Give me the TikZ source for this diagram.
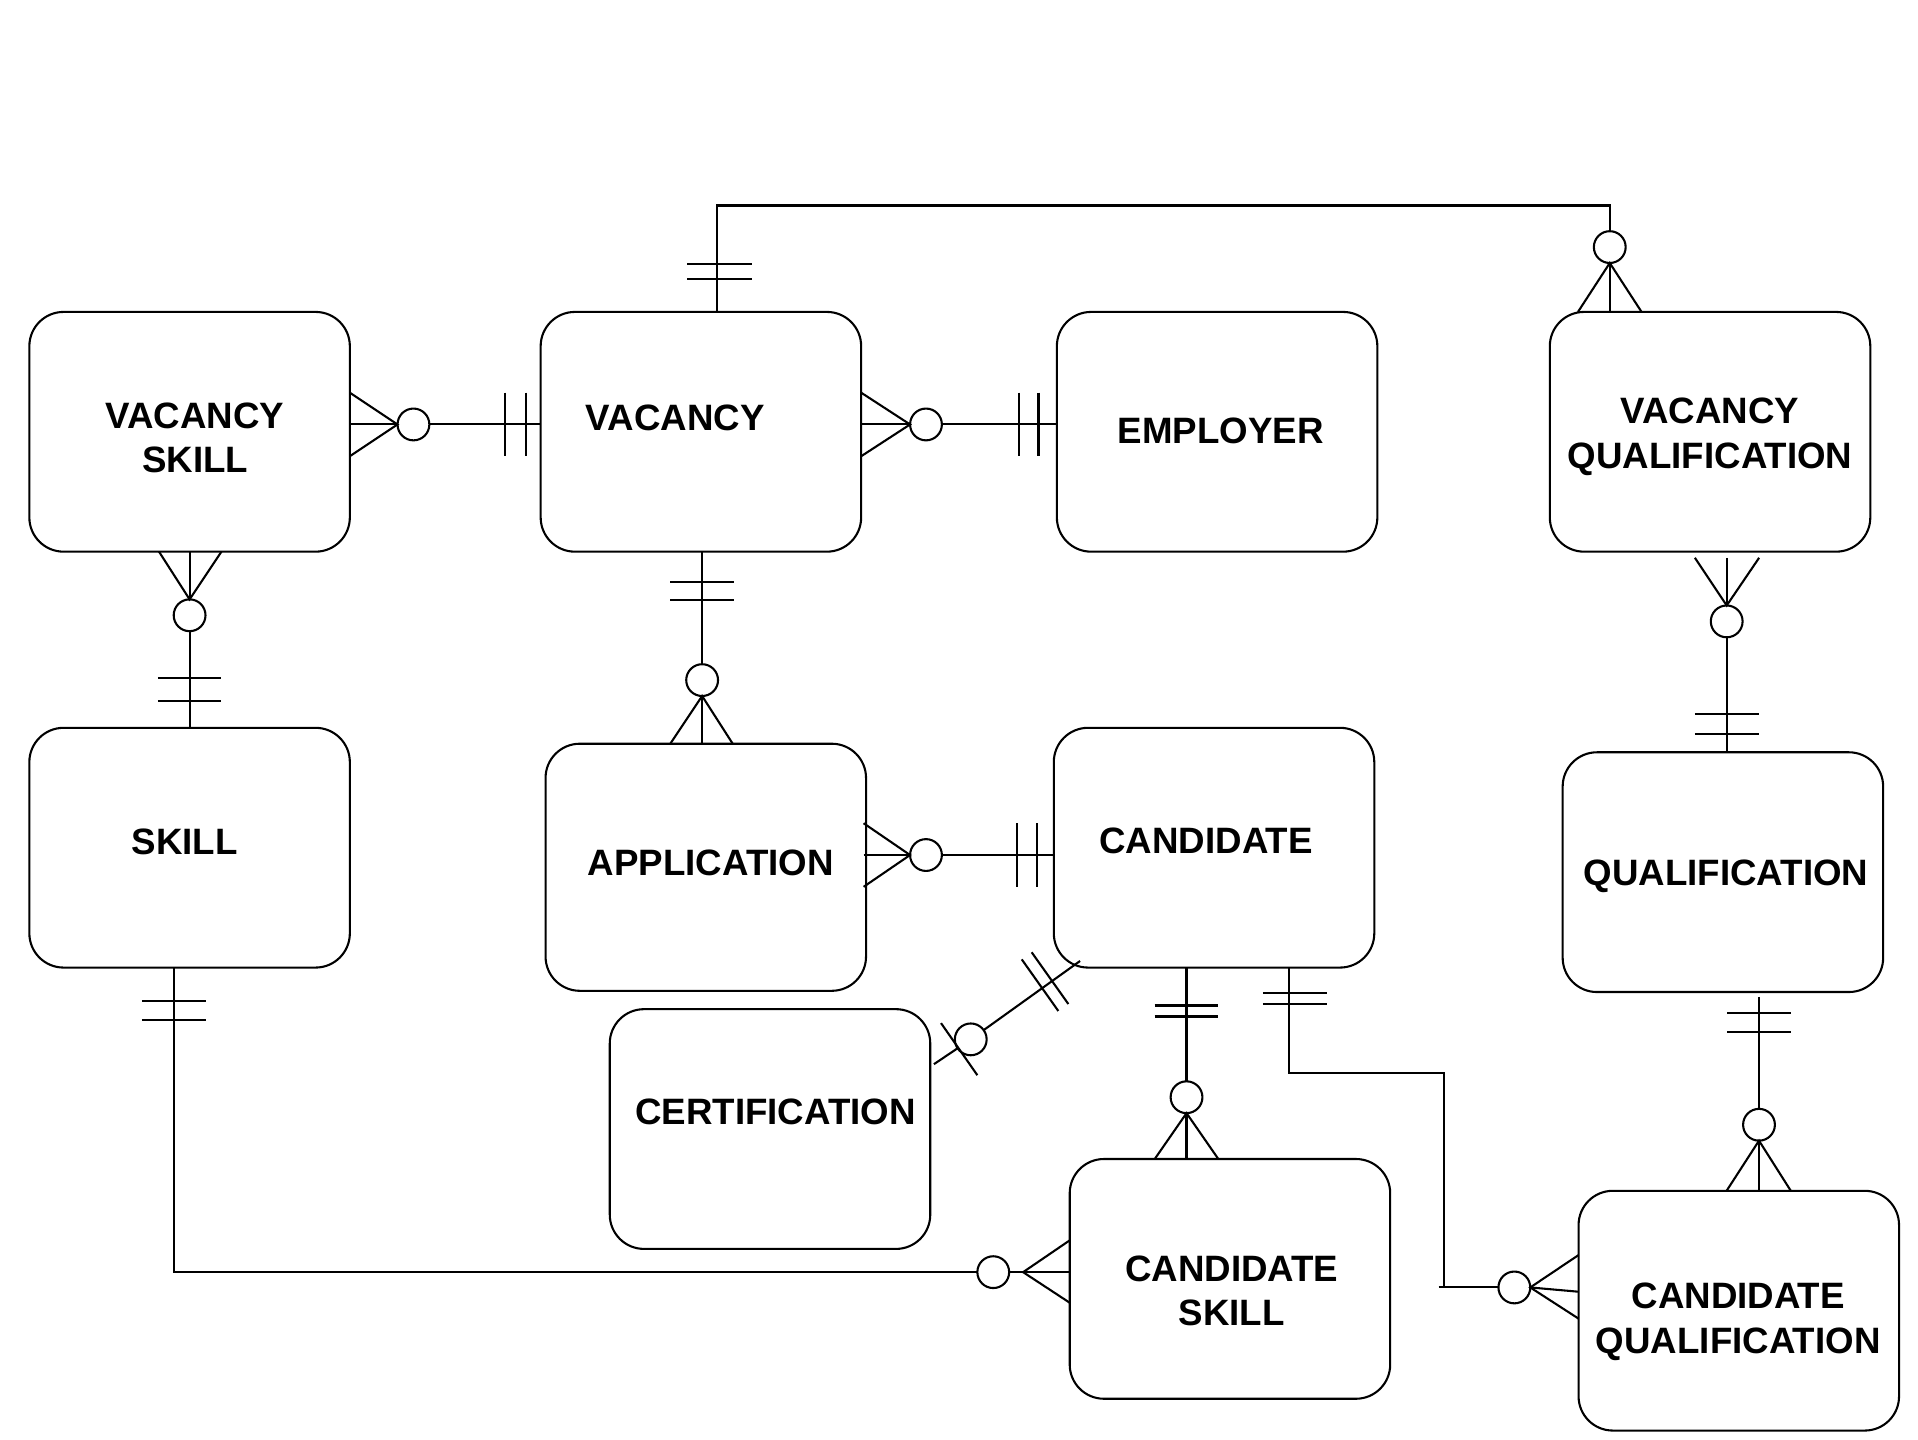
\documentclass[tikz,border=0pt]{standalone}
\usepackage{fontspec}
\setmainfont{Liberation Sans}
\usetikzlibrary{calc}
\begin{document}
\begin{tikzpicture}[x=0.5pt,y=-0.5pt,line width=0.85pt,
  entity/.style={draw, rounded corners=14pt, minimum width=131pt, minimum height=98pt, inner sep=0pt, outer sep=0pt},
  lbl/.style={font=\fontsize{15}{18}\selectfont\bfseries, anchor=base, inner sep=0pt},
  circ/.style={draw, circle, minimum size=13pt, inner sep=0pt, outer sep=0pt}]
\fill[white] (0,0) rectangle (1568,1177);
\useasboundingbox (0,0) rectangle (1568,1177);

% entities
\node[entity] (vs) at (155,353) {};
\node[entity] (vac) at (573,353) {};
\node[entity] (emp) at (995,353) {};
\node[entity] (vq) at (1398,353) {};
\node[entity] (skill) at (155,693) {};
\node[entity, minimum height=101pt] (app) at (577,709) {};
\node[entity] (cand) at (992.5,693) {};
\node[entity] (qual) at (1408.5,713) {};
\node[entity] (cert) at (629.5,923) {};
\node[entity] (cs) at (1005.5,1045.5) {};
\node[entity] (cq) at (1421.5,1071.5) {};

% labels
\node[lbl] (t1) at (159.5,350) {VACANCY};
\node[lbl] (t2) at (159.5,386.5) {SKILL};
\node[lbl] (t3) at (552,351.7) {VACANCY};
\node[lbl] (t4) at (998,362.7) {EMPLOYER};
\node[lbl] (t5) at (1398,346.5) {VACANCY};
\node[lbl] (t6) at (1398,383) {QUALIFICATION};
\node[lbl] (t7) at (151,698.7) {SKILL};
\node[lbl] (t8) at (581,716) {APPLICATION};
\node[lbl] (t9) at (986,698) {CANDIDATE};
\node[lbl] (t10) at (1411,723.7) {QUALIFICATION};
\node[lbl] (t11) at (634,919.2) {CERTIFICATION};
\node[lbl] (t12) at (1007,1047.6) {CANDIDATE};
\node[lbl] (t13) at (1007,1083.5) {SKILL};
\node[lbl] (t14) at (1421,1069.8) {CANDIDATE};
\node[lbl] (t15) at (1421,1106.9) {QUALIFICATION};

% a: VACANCY SKILL -- VACANCY
\node[circ] (o1) at (338,347) {};
\coordinate (a1) at (vs.east |- o1);
\coordinate (a2) at (vac.west |- o1);
\draw (a1) -- (o1.west);
\draw ($(a1)+(0,-26)$) -- (o1.west) -- ($(a1)+(0,26)$);
\draw (o1.east) -- (a2);
\draw ($(a2)+(-29,-26)$) -- ++(0,52);
\draw ($(a2)+(-12,-26)$) -- ++(0,52);

% b: VACANCY -- EMPLOYER
\node[circ] (o2) at (757,347) {};
\coordinate (b1) at (vac.east |- o2);
\coordinate (b2) at (emp.west |- o2);
\draw (b1) -- (o2.west);
\draw ($(b1)+(0,-26)$) -- (o2.west) -- ($(b1)+(0,26)$);
\draw (o2.east) -- (b2);
\draw ($(b2)+(-31,-26)$) -- ++(0,52);
\draw ($(b2)+(-15,-26)$) -- ++(0,52);

% c: VACANCY -- VACANCY QUALIFICATION (top)
\node[circ] (o3) at (1316,202) {};
\coordinate (c1) at ($(vac.north)+(13,0)$);
\coordinate (c2) at (1316,168);
\draw (c1) |- (c2) -- (o3.north);
\coordinate (c3) at (vq.north -| o3);
\draw ($(c3)+(-26,0)$) -- (o3.south) -- ($(c3)+(26,0)$);
\draw (c3) -- (o3.south);
\draw ($(c1)+(-24,-39)$) -- ++(53,0);
\draw ($(c1)+(-24,-27)$) -- ++(53,0);

% d: VACANCY SKILL -- SKILL
\node[circ] (o4) at (155,503) {};
\coordinate (d1) at (vs.south);
\draw (d1) -- (o4.north);
\draw ($(d1)+(-25,0)$) -- (o4.north) -- ($(d1)+(26,0)$);
\draw (o4.south) -- (skill.north);
\draw ($(skill.north)+(-26,-41)$) -- ++(52,0);
\draw ($(skill.north)+(-26,-22)$) -- ++(52,0);

% e: VACANCY -- APPLICATION
\node[circ] (o5) at (574,556) {};
\coordinate (e1) at (vac.south -| o5);
\draw (e1) -- (o5.north);
\draw ($(e1)+(-26,25)$) -- ++(52,0);
\draw ($(e1)+(-26,39.5)$) -- ++(52,0);
\coordinate (e2) at (app.north -| o5);
\draw ($(e2)+(-26,0)$) -- (o5.south) -- ($(e2)+(25,0)$);
\draw (o5.south) -- (e2);

% f: APPLICATION -- CANDIDATE
\node[circ] (o6) at (757,699) {};
\coordinate (f1) at ($(app.east |- o6)+(-2,0)$);
\coordinate (f2) at (cand.west |- o6);
\draw (f1) -- (o6.west);
\draw ($(f1)+(0,-26)$) -- (o6.west) -- ($(f1)+(0,26)$);
\draw (o6.east) -- (f2);
\draw ($(f2)+(-30,-26)$) -- ++(0,52);
\draw ($(f2)+(-14,-26)$) -- ++(0,52);

% g: CANDIDATE -- CERTIFICATION
\node[circ] (o7) at (793.6,849.7) {};
\coordinate (g1) at ($(cand.south west)+(21.5,-5.4)$);
\coordinate (g2) at ($(cert.east)+(3,-53)$);
\draw (g2) -- (o7);
\draw (o7) -- (g1);
\draw (769.3,836.4) -- (799,879);
\draw (835.3,784.3) -- (865.2,826.5);
\draw (843.4,778.5) -- (873.4,820.8);

% h: CANDIDATE -- CANDIDATE SKILL
\node[circ] (o11) at (970,897) {};
\coordinate (h1) at (cand.south -| o11);
\draw (h1) -- (o11.north);
\draw ($(h1)+(-26,31)$) -- ++(52,0);
\draw ($(h1)+(-26,40)$) -- ++(52,0);
\coordinate (h2) at (cs.north -| o11);
\draw ($(h2)+(-26,0)$) -- (o11.south) -- ($(h2)+(26,0)$);
\draw (o11.south) -- (h2);

% i: CANDIDATE -- CANDIDATE QUALIFICATION
\node[circ] (o8) at (1238,1052.5) {};
\coordinate (i1) at ($(cand.south)+(61.5,0)$);
\coordinate (i2) at (1180.5,877);
\draw (i1) |- (i2) -- (i2 |- o8);
\draw ($(i2 |- o8)+(-4.5,0)$) -- (o8.west);
\draw ($(i1)+(-21.5,21)$) -- ++(52.5,0);
\draw ($(i1)+(-21.5,30)$) -- ++(52.5,0);
\coordinate (i3) at (cq.west |- o8);
\draw ($(i3)+(0,-26.5)$) -- (o8.east) -- ($(i3)+(0,25.5)$);
\draw (o8.east) -- ($(i3)+(0,3.5)$);

% j: SKILL -- CANDIDATE SKILL
\node[circ] (o9) at (812,1040) {};
\coordinate (j1) at ($(skill.south)+(-13,0)$);
\draw (j1) |- (o9.west);
\draw ($(j1)+(-26,27)$) -- ++(52,0);
\draw ($(j1)+(-26,42.5)$) -- ++(52,0);
\coordinate (j2) at (cs.west |- o9);
\coordinate (j3) at (836.4,1040);
\draw (o9.east) -- (j2);
\draw ($(j2)+(0,-26)$) -- (j3) -- ($(j2)+(0,25)$);

% k: VACANCY QUALIFICATION -- QUALIFICATION
\node[circ] (o10) at (1411.6,508) {};
\coordinate (k1) at ($(vq.south -| o10)+(0,5)$);
\draw (k1) -- (o10.north);
\draw ($(k1)+(-26,0)$) -- (o10.north) -- ($(k1)+(26.5,0)$);
\draw (o10.south) -- (qual.north -| o10);
\draw ($(qual.north -| o10)+(-26,-31)$) -- ++(52,0);
\draw ($(qual.north -| o10)+(-26,-15)$) -- ++(52,0);

% l: QUALIFICATION -- CANDIDATE QUALIFICATION
\node[circ] (o12) at (1438,919.5) {};
\coordinate (l1) at ($(qual.south -| o12)+(0,4)$);
\draw (l1) -- (o12.north);
\draw ($(l1)+(-26,13)$) -- ++(52,0);
\draw ($(l1)+(-26,28.5)$) -- ++(52,0);
\coordinate (l2) at (cq.north -| o12);
\draw ($(l2)+(-26.5,0)$) -- (o12.south) -- ($(l2)+(26,0)$);
\draw (o12.south) -- (l2);
\end{tikzpicture}
\end{document}
